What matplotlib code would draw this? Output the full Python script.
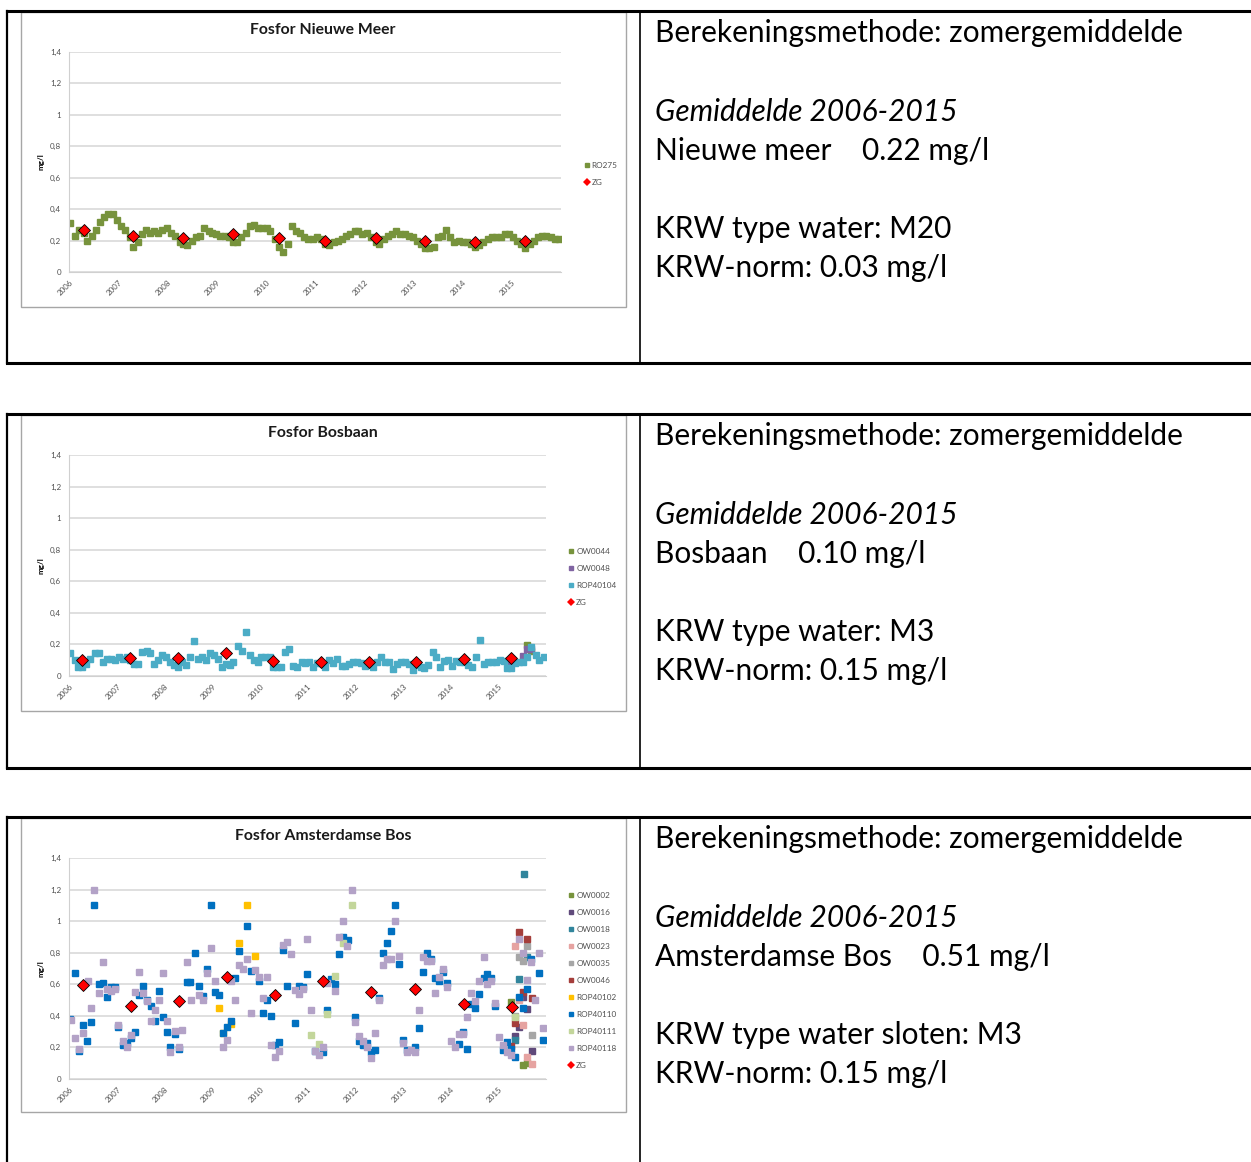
import matplotlib
matplotlib.use("Agg")
import matplotlib.pyplot as plt
from matplotlib.lines import Line2D
from matplotlib.patches import Rectangle

plt.rcParams['font.family'] = ['Lato', 'DejaVu Sans']

# ---------------- data ----------------
years = [2006, 2007, 2008, 2009, 2010, 2011, 2012, 2013, 2014, 2015]
year_labels = [str(y) for y in years]
y_ticks = [0, 0.2, 0.4, 0.6, 0.8, 1.0, 1.2, 1.4]
y_tick_labels = ["0", "0,2", "0,4", "0,6", "0,8", "1", "1,2", "1,4"]

# Nieuwe Meer
ro275_t = [2006.02, 2006.12, 2006.20, 2006.29, 2006.36, 2006.45, 2006.55, 2006.63, 2006.70, 2006.78, 2006.88, 2006.96,
           2007.05, 2007.13, 2007.23, 2007.30, 2007.39, 2007.47, 2007.56, 2007.64, 2007.73, 2007.81, 2007.89, 2007.98,
           2008.07, 2008.15, 2008.24, 2008.32, 2008.40, 2008.49, 2008.57, 2008.65, 2008.74, 2008.83, 2008.91, 2008.99,
           2009.07, 2009.16, 2009.25, 2009.33, 2009.41, 2009.50, 2009.59, 2009.68, 2009.75, 2009.84, 2009.92,
           2010.01, 2010.09, 2010.18, 2010.27, 2010.35, 2010.44, 2010.52, 2010.61, 2010.70, 2010.78, 2010.86, 2010.95,
           2011.04, 2011.11, 2011.20, 2011.29, 2011.38, 2011.46, 2011.54, 2011.63, 2011.71, 2011.80, 2011.88, 2011.96,
           2012.05, 2012.14, 2012.23, 2012.30, 2012.39, 2012.48, 2012.56, 2012.64, 2012.73, 2012.82, 2012.90, 2012.98,
           2013.07, 2013.16, 2013.24, 2013.32, 2013.41, 2013.49, 2013.58, 2013.66, 2013.74, 2013.83, 2013.92,
           2014.00, 2014.08, 2014.17, 2014.26, 2014.34, 2014.42, 2014.51, 2014.60, 2014.68, 2014.77, 2014.86, 2014.94,
           2015.02, 2015.11, 2015.19, 2015.27, 2015.36, 2015.45, 2015.53, 2015.62, 2015.70, 2015.79, 2015.88, 2015.96]
ro275_v = [0.31, 0.23, 0.27, 0.25, 0.20, 0.23, 0.27, 0.32, 0.35, 0.37, 0.37, 0.33,
           0.29, 0.27, 0.22, 0.16, 0.19, 0.24, 0.27, 0.25, 0.26, 0.25, 0.27, 0.28,
           0.25, 0.23, 0.19, 0.18, 0.17, 0.20, 0.22, 0.23, 0.28, 0.26, 0.25, 0.24,
           0.23, 0.23, 0.22, 0.19, 0.19, 0.22, 0.25, 0.29, 0.30, 0.28, 0.28,
           0.28, 0.26, 0.21, 0.16, 0.13, 0.18, 0.29, 0.26, 0.25, 0.22, 0.21, 0.21,
           0.22, 0.21, 0.18, 0.17, 0.19, 0.20, 0.21, 0.23, 0.24, 0.26, 0.26, 0.24,
           0.25, 0.22, 0.19, 0.18, 0.21, 0.23, 0.24, 0.26, 0.24, 0.24, 0.23, 0.22,
           0.20, 0.18, 0.15, 0.15, 0.16, 0.22, 0.23, 0.27, 0.22, 0.19, 0.20,
           0.19, 0.19, 0.18, 0.16, 0.17, 0.19, 0.21, 0.22, 0.22, 0.22, 0.24, 0.24,
           0.22, 0.20, 0.18, 0.15, 0.18, 0.20, 0.22, 0.23, 0.23, 0.22, 0.21, 0.21]
zg1_t = [2006.29, 2007.30, 2008.32, 2009.33, 2010.27, 2011.20, 2012.23, 2013.24, 2014.26, 2015.27]
zg1_v = [0.265, 0.23, 0.215, 0.24, 0.215, 0.20, 0.215, 0.20, 0.19, 0.20]

# Bosbaan
rop40104_t = [2006.02, 2006.12, 2006.19, 2006.27, 2006.35, 2006.43, 2006.53, 2006.62, 2006.70, 2006.78, 2006.87, 2006.96,
              2007.04, 2007.13, 2007.21, 2007.28, 2007.36, 2007.44, 2007.53, 2007.62, 2007.70, 2007.78, 2007.86, 2007.95,
              2008.03, 2008.11, 2008.20, 2008.28, 2008.36, 2008.45, 2008.53, 2008.61, 2008.70, 2008.78, 2008.87, 2008.95,
              2009.03, 2009.12, 2009.20, 2009.28, 2009.36, 2009.44, 2009.53, 2009.62, 2009.70, 2009.79, 2009.87, 2009.95,
              2010.03, 2010.11, 2010.20, 2010.28, 2010.36, 2010.45, 2010.53, 2010.61, 2010.70, 2010.78, 2010.87, 2010.95,
              2011.03, 2011.12, 2011.20, 2011.28, 2011.37, 2011.45, 2011.53, 2011.62, 2011.71, 2011.79, 2011.87, 2011.95,
              2012.04, 2012.12, 2012.20, 2012.29, 2012.37, 2012.45, 2012.53, 2012.62, 2012.70, 2012.78, 2012.87, 2012.95,
              2013.04, 2013.12, 2013.20, 2013.28, 2013.37, 2013.45, 2013.53, 2013.62, 2013.70, 2013.78, 2013.87, 2013.95,
              2014.03, 2014.11, 2014.20, 2014.28, 2014.37, 2014.45, 2014.53, 2014.61, 2014.70, 2014.78, 2014.87, 2014.95,
              2015.03, 2015.11, 2015.19, 2015.27, 2015.36, 2015.44, 2015.52, 2015.61, 2015.69, 2015.78, 2015.86, 2015.95]
rop40104_v = [0.144, 0.10, 0.06, 0.06, 0.076, 0.11, 0.144, 0.144, 0.087, 0.11, 0.11, 0.10,
              0.12, 0.11, 0.12, 0.10, 0.076, 0.076, 0.15, 0.16, 0.144, 0.076, 0.10, 0.13,
              0.12, 0.09, 0.07, 0.06, 0.09, 0.07, 0.12, 0.22, 0.11, 0.12, 0.10, 0.144,
              0.13, 0.11, 0.06, 0.076, 0.07, 0.087, 0.19, 0.16, 0.28, 0.133, 0.10, 0.09,
              0.12, 0.12, 0.12, 0.06, 0.06, 0.06, 0.154, 0.17, 0.065, 0.055, 0.087, 0.08,
              0.087, 0.06, 0.08, 0.08, 0.06, 0.10, 0.08, 0.11, 0.065, 0.065, 0.076, 0.09,
              0.087, 0.08, 0.065, 0.07, 0.06, 0.087, 0.12, 0.09, 0.09, 0.042, 0.076, 0.087,
              0.087, 0.076, 0.038, 0.07, 0.055, 0.05, 0.07, 0.15, 0.12, 0.06, 0.095, 0.10,
              0.065, 0.097, 0.087, 0.09, 0.07, 0.06, 0.12, 0.23, 0.076, 0.087, 0.087, 0.087,
              0.10, 0.097, 0.053, 0.05, 0.08, 0.087, 0.087, 0.12, 0.186, 0.133, 0.10, 0.12]
ow0044_t = [2015.61, 2015.69]
ow0044_v = [0.196, 0.16]
ow0048_t = [2015.27, 2015.52, 2015.61, 2015.69]
ow0048_v = [0.087, 0.127, 0.17, 0.17]
zg2_t = [2006.27, 2007.27, 2008.27, 2009.29, 2010.28, 2011.28, 2012.29, 2013.28, 2014.28, 2015.27]
zg2_v = [0.10, 0.117, 0.112, 0.146, 0.095, 0.087, 0.087, 0.087, 0.108, 0.116]

# Amsterdamse Bos
ow0002_t = [2015.27, 2015.52, 2015.61]
ow0002_v = [0.486, 0.09, 0.10]
ow0016_t = [2015.36, 2015.44, 2015.52, 2015.61, 2015.70]
ow0016_v = [0.27, 0.33, 0.517, 0.443, 0.175]
ow0018_t = [2015.36, 2015.44, 2015.53, 2015.61]
ow0018_v = [0.245, 0.635, 1.30, 0.77]
ow0023_t = [2015.36, 2015.44, 2015.52, 2015.61, 2015.70]
ow0023_v = [0.84, 0.50, 0.34, 0.14, 0.095]
ow0035_t = [2015.36, 2015.44, 2015.52, 2015.61, 2015.70]
ow0035_v = [0.40, 0.77, 0.745, 0.84, 0.28]
ow0046_t = [2015.27, 2015.36, 2015.44, 2015.52, 2015.61, 2015.70]
ow0046_v = [0.21, 0.355, 0.93, 0.55, 0.89, 0.51]
rop40102_t = [2009.14, 2009.22, 2009.40, 2009.56, 2009.72, 2009.89]
rop40102_v = [0.45, 0.29, 0.35, 0.86, 1.10, 0.78]
rop40110_t = [2006.02, 2006.12, 2006.21, 2006.28, 2006.36, 2006.45, 2006.52, 2006.62, 2006.70, 2006.78, 2006.87, 2006.96,
              2007.03, 2007.12, 2007.20, 2007.29, 2007.38, 2007.46, 2007.54, 2007.62, 2007.71, 2007.80, 2007.88, 2007.96,
              2008.04, 2008.12, 2008.21, 2008.30, 2008.46, 2008.54, 2008.63, 2008.72, 2008.81, 2008.88, 2008.97,
              2009.05, 2009.14, 2009.23, 2009.31, 2009.39, 2009.47, 2009.56, 2009.73, 2009.81, 2009.97,
              2010.07, 2010.15, 2010.23, 2010.31, 2010.40, 2010.48, 2010.57, 2010.74, 2010.82, 2010.90, 2010.99,
              2011.16, 2011.32, 2011.41, 2011.49, 2011.57, 2011.66, 2011.75, 2011.84,
              2012.00, 2012.08, 2012.16, 2012.25, 2012.33, 2012.41, 2012.50, 2012.58, 2012.66, 2012.75, 2012.83, 2012.92,
              2013.00, 2013.08, 2013.25, 2013.33, 2013.42, 2013.50, 2013.58, 2013.67, 2013.75, 2013.84, 2013.93,
              2014.18, 2014.26, 2014.35, 2014.43, 2014.52, 2014.60, 2014.69, 2014.77, 2014.85, 2014.94,
              2015.10, 2015.18, 2015.27, 2015.35, 2015.44, 2015.52, 2015.61, 2015.69, 2015.85, 2015.93]
rop40110_v = [0.38, 0.67, 0.177, 0.34, 0.243, 0.363, 1.10, 0.60, 0.61, 0.52, 0.585, 0.585,
              0.33, 0.215, 0.23, 0.26, 0.30, 0.53, 0.59, 0.50, 0.46, 0.37, 0.56, 0.395,
              0.30, 0.205, 0.283, 0.188, 0.616, 0.616, 0.80, 0.59, 0.525, 0.695, 1.10,
              0.55, 0.535, 0.293, 0.33, 0.37, 0.64, 0.81, 0.967, 0.684, 0.62,
              0.42, 0.50, 0.40, 0.215, 0.232, 0.817, 0.59, 0.353, 0.59, 0.58, 0.663,
              0.177, 0.173, 0.44, 0.635, 0.60, 0.79, 0.90, 0.88,
              0.39, 0.243, 0.215, 0.23, 0.173, 0.184, 0.515, 0.80, 0.86, 0.94, 1.10, 0.73,
              0.25, 0.184, 0.20, 0.32, 0.68, 0.80, 0.76, 0.64, 0.62, 0.68, 0.61,
              0.22, 0.30, 0.19, 0.473, 0.45, 0.54, 0.64, 0.663, 0.64, 0.462,
              0.184, 0.232, 0.19, 0.141, 0.52, 0.45, 0.57, 0.76, 0.67, 0.25]
rop40111_t = [2011.07, 2011.23, 2011.41, 2011.58, 2011.74, 2011.92, 2015.36]
rop40111_v = [0.28, 0.22, 0.41, 0.65, 0.86, 1.10, 0.39]
rop40118_t = [2006.03, 2006.12, 2006.21, 2006.28, 2006.38, 2006.45, 2006.52, 2006.62, 2006.70, 2006.79, 2006.87, 2006.96,
              2007.03, 2007.12, 2007.20, 2007.29, 2007.38, 2007.46, 2007.54, 2007.62, 2007.71, 2007.80, 2007.88, 2007.96,
              2008.04, 2008.12, 2008.21, 2008.30, 2008.37, 2008.46, 2008.56, 2008.72, 2008.81, 2008.88, 2008.97,
              2009.05, 2009.23, 2009.31, 2009.39, 2009.48, 2009.56, 2009.64, 2009.73, 2009.81, 2009.89, 2009.98,
              2010.07, 2010.15, 2010.23, 2010.32, 2010.40, 2010.48, 2010.57, 2010.65, 2010.74, 2010.82, 2010.90, 2010.99,
              2011.07, 2011.16, 2011.24, 2011.32, 2011.41, 2011.57, 2011.66, 2011.74, 2011.83, 2011.92,
              2012.00, 2012.08, 2012.16, 2012.25, 2012.33, 2012.41, 2012.50, 2012.58, 2012.66, 2012.75, 2012.83, 2012.92,
              2013.00, 2013.08, 2013.17, 2013.25, 2013.33, 2013.42, 2013.50, 2013.58, 2013.67, 2013.75, 2013.84, 2013.93,
              2014.01, 2014.09, 2014.18, 2014.26, 2014.35, 2014.43, 2014.52, 2014.60, 2014.69, 2014.77, 2014.85, 2014.94,
              2015.02, 2015.10, 2015.18, 2015.27, 2015.44, 2015.52, 2015.61, 2015.69, 2015.77, 2015.85, 2015.93]
rop40118_v = [0.374, 0.26, 0.188, 0.293, 0.62, 0.447, 1.197, 0.543, 0.74, 0.57, 0.56, 0.57,
              0.342, 0.24, 0.205, 0.279, 0.55, 0.68, 0.543, 0.496, 0.37, 0.44, 0.50, 0.67,
              0.37, 0.173, 0.304, 0.205, 0.31, 0.74, 0.50, 0.53, 0.50, 0.67, 0.83,
              0.62, 0.205, 0.25, 0.62, 0.50, 0.72, 0.695, 0.76, 0.42, 0.69, 0.648,
              0.515, 0.648, 0.215, 0.141, 0.18, 0.85, 0.868, 0.79, 0.564, 0.54, 0.57, 0.889,
              0.44, 0.18, 0.152, 0.20, 0.606, 0.56, 0.90, 1.00, 0.84, 1.197,
              0.363, 0.272, 0.243, 0.20, 0.131, 0.293, 0.50, 0.72, 0.76, 0.76, 1.00, 0.78,
              0.226, 0.173, 0.184, 0.173, 0.44, 0.77, 0.75, 0.75, 0.543, 0.648, 0.70, 0.585,
              0.243, 0.20, 0.285, 0.285, 0.395, 0.543, 0.496, 0.62, 0.77, 0.60, 0.62, 0.48,
              0.264, 0.215, 0.173, 0.152, 0.889, 0.80, 0.63, 0.74, 0.50, 0.80, 0.32]
zg3_t = [2006.28, 2007.30, 2008.29, 2009.31, 2010.32, 2011.32, 2012.33, 2013.26, 2014.27, 2015.28]
zg3_v = [0.593, 0.46, 0.496, 0.646, 0.534, 0.619, 0.551, 0.572, 0.477, 0.454]

# right-hand table texts
panel_titles = ["Fosfor Nieuwe Meer", "Fosfor Bosbaan", "Fosfor Amsterdamse Bos"]
panel_texts = [
    ["Nieuwe meer    0.22 mg/l", "KRW type water: M20", "KRW-norm: 0.03 mg/l"],
    ["Bosbaan    0.10 mg/l", "KRW type water: M3", "KRW-norm: 0.15 mg/l"],
    ["Amsterdamse Bos    0.51 mg/l", "KRW type water sloten: M3", "KRW-norm: 0.15 mg/l"],
]

# ---------------- figure ----------------
W, H = 1251, 1162
fig = plt.figure(figsize=(W / 100, H / 100), dpi=100)


def fx(x):
    return x / W


def fy(y):
    return 1 - y / H


def hline(x0, x1, y, lw):
    fig.add_artist(Line2D([fx(x0), fx(x1)], [fy(y), fy(y)], color='black', lw=lw, transform=fig.transFigure))


def vline(x, y0, y1, lw):
    fig.add_artist(Line2D([fx(x), fx(x)], [fy(y0), fy(y1)], color='black', lw=lw, transform=fig.transFigure))


def make_axes(x0, y0, x1, y1):
    ax = fig.add_axes([fx(x0), fy(y1), fx(x1) - fx(x0), fy(y0) - fy(y1)])
    ax.set_xlim(2006, 2016)
    ax.set_ylim(0, 1.4)
    ax.set_yticks(y_ticks)
    ax.set_yticklabels(y_tick_labels, fontsize=5.8, color='#505050')
    ax.set_xticks(years)
    ax.set_xticklabels(year_labels, fontsize=5.8, color='#505050', rotation=45,
                       ha='right', va='top', rotation_mode='anchor')
    ax.tick_params(axis='y', length=0, pad=6)
    ax.tick_params(axis='x', length=0, pad=5)
    ax.grid(axis='y', color='#D9D9D9', lw=1.2)
    ax.set_axisbelow(True)
    for s in ['top', 'right']:
        ax.spines[s].set_visible(False)
    ax.spines['left'].set_color('#D0D0D0')
    ax.spines['bottom'].set_color('#D0D0D0')
    ax.set_ylabel("mg/l", fontsize=5.8, fontweight='bold', labelpad=4)
    return ax


def sq(ax, t, v, color, label, size=4.0):
    ax.plot(t, v, 's', ms=size, color=color, mec=color, label=label, ls='none')


def zg(ax, t, v):
    ax.plot(t, v, 'D', ms=6.2, color='#FF0000', mec='black', mew=0.6, label='ZG', ls='none')


def legend(ax):
    leg = ax.legend(loc='center left', bbox_to_anchor=(1.04, 0.447), frameon=False, fontsize=5.9,
                    handlelength=0.5, handletextpad=0.35, labelspacing=1.22, borderpad=0)
    for h in leg.legend_handles:
        if h.get_marker() == 'D':
            h.set_markersize(3.6)
            h.set_markeredgewidth(0)
        else:
            h.set_markersize(3.2)
    for txt in leg.get_texts():
        txt.set_color('#505050')


tops = [11, 414, 817]
bottoms = [363, 768, None]
charts = [(12, 307), (415, 711), (818, 1112)]
body_size = 21.5

for i, top in enumerate(tops):
    bot = bottoms[i] if bottoms[i] is not None else H + 5
    hline(7, W, top, 2.2)
    if bottoms[i] is not None:
        hline(7, W, bot, 2.2)
    vline(7, top, bot, 1.6)
    vline(640, top, bot, 1.2)

    cy0, cy1 = charts[i]
    fig.add_artist(Rectangle((fx(21), fy(cy1)), fx(626) - fx(21), fy(cy0) - fy(cy1), fill=False,
                             edgecolor='#A6A6A6', lw=1.0, transform=fig.transFigure))
    fig.text(fx(323), fy(cy0 + 18), panel_titles[i], fontsize=11.3, fontweight='bold',
             ha='center', va='center', color='#1a1a1a')

    tx = fx(655)
    fig.text(tx, fy(top + 31), "Berekeningsmethode: zomergemiddelde", fontsize=body_size, va='baseline')
    fig.text(tx, fy(top + 110), "Gemiddelde 2006-2015", fontsize=body_size, va='baseline', style='italic')
    fig.text(tx, fy(top + 149), panel_texts[i][0], fontsize=body_size, va='baseline')
    fig.text(tx, fy(top + 227), panel_texts[i][1], fontsize=body_size, va='baseline')
    fig.text(tx, fy(top + 266), panel_texts[i][2], fontsize=body_size, va='baseline')

# chart 1
ax1 = make_axes(69.4, 51.7, 561, 272)
sq(ax1, ro275_t, ro275_v, '#77933C', 'RO275')
zg(ax1, zg1_t, zg1_v)
legend(ax1)

# chart 2
ax2 = make_axes(69.4, 455, 546, 676)
sq(ax2, ow0044_t, ow0044_v, '#77933C', 'OW0044')
sq(ax2, ow0048_t, ow0048_v, '#8064A2', 'OW0048')
sq(ax2, rop40104_t, rop40104_v, '#4BACC6', 'ROP40104')
zg(ax2, zg2_t, zg2_v)
legend(ax2)

# chart 3
ax3 = make_axes(69.4, 858, 546, 1079)
sq(ax3, ow0002_t, ow0002_v, '#77933C', 'OW0002')
sq(ax3, ow0016_t, ow0016_v, '#604A7B', 'OW0016')
sq(ax3, ow0018_t, ow0018_v, '#31859C', 'OW0018')
sq(ax3, ow0023_t, ow0023_v, '#E6A3A1', 'OW0023')
sq(ax3, ow0035_t, ow0035_v, '#A6A6A6', 'OW0035')
sq(ax3, ow0046_t, ow0046_v, '#A53E3B', 'OW0046')
sq(ax3, rop40102_t, rop40102_v, '#FFC000', 'ROP40102')
sq(ax3, rop40110_t, rop40110_v, '#0070C0', 'ROP40110')
sq(ax3, rop40111_t, rop40111_v, '#C3D69B', 'ROP40111')
sq(ax3, rop40118_t, rop40118_v, '#B3A2C7', 'ROP40118')
zg(ax3, zg3_t, zg3_v)
legend(ax3)

fig.savefig("out.png", dpi=100)
